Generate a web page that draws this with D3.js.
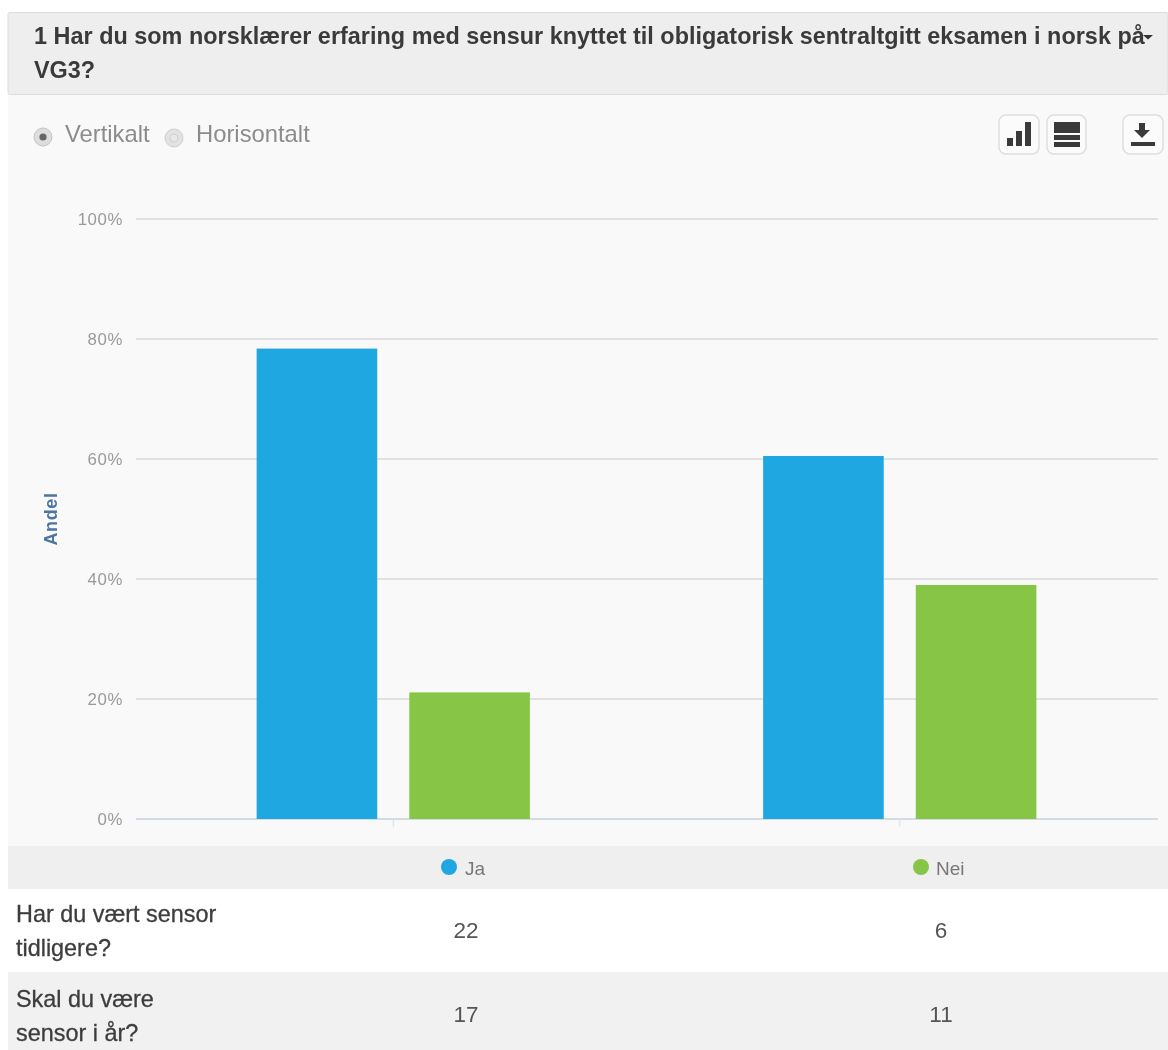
<!DOCTYPE html>
<html><head><meta charset="utf-8">
<script src="https://cdn.jsdelivr.net/npm/d3@7"></script>
<style>html,body{margin:0;padding:0;background:#fff;overflow:hidden}svg{display:block;filter:blur(.45px)}text{font-family:"Liberation Sans",Arial,sans-serif}</style>
</head><body><svg id="c" width="1168" height="1050"></svg>
<script>
const titleLines = ["1 Har du som norsklærer erfaring med sensur knyttet til obligatorisk sentraltgitt eksamen i norsk på", "VG3?"];
const categories = ["Har du vært sensor tidligere?", "Skal du være sensor i år?"];
const seriesNames = ["Ja", "Nei"];
const seriesColors = ["#1ea7e1", "#86c545"];
const jaShare = [78.4, 60.5];
const neiShare = [21.1, 39.0];
const yTicks = [0, 20, 40, 60, 80, 100];
const tableRows = [["Har du vært sensor", "tidligere?"], ["Skal du være", "sensor i år?"]];
const jaCounts = [22, 17];
const neiCounts = [6, 11];
const viewOptions = ["Vertikalt", "Horisontalt"];

const svg = d3.select("#c");
svg.append("rect").attr("x",8).attr("y",94).attr("width",1160).attr("height",956).attr("fill","#f9f9f9");
svg.append("rect").attr("x",8).attr("y",12.5).attr("width",1160).attr("height",82).attr("rx",2).attr("fill","#eeeeee").attr("stroke","#dcdcdc");
svg.selectAll("text.title").data(titleLines).join("text").attr("class","title")
  .attr("x",34).attr("y",(d,i)=>44+i*34).attr("font-size",23.4).attr("letter-spacing",.02).attr("font-weight","bold").attr("fill","#3a3a3a").text(d=>d);
svg.append("path").attr("d","M1143 35h10l-5 4.5z").attr("fill","#333");

// radio options
svg.append("circle").attr("cx",43).attr("cy",137).attr("r",9).attr("fill","#ddd").attr("stroke","#c4c4c4");
svg.append("circle").attr("cx",43).attr("cy",137).attr("r",3.6).attr("fill","#666");
svg.append("circle").attr("cx",174).attr("cy",138).attr("r",9).attr("fill","#e2e2e2").attr("stroke","#cfcfcf");
svg.append("circle").attr("cx",174).attr("cy",138).attr("r",4).attr("fill","#e8e8e8").attr("stroke","#d0d0d0");
svg.selectAll("text.opt").data(viewOptions).join("text").attr("class","opt")
  .attr("x",(d,i)=>[65,196][i]).attr("y",142).attr("font-size",23.8).attr("fill","#8c8c8c").text(d=>d);

// toolbar buttons
[[999,40],[1047,39],[1123,40]].forEach(([x,w])=>{
  svg.append("rect").attr("x",x).attr("y",115).attr("width",w).attr("height",39).attr("rx",7).attr("fill","#fbfbfb").attr("stroke","#dedede").attr("stroke-width",1.5);
});
const icon = svg.append("g").attr("fill","#3a3a3a");
[[1007,138,6,8],[1016,131,6,15],[1025,122,6,24]].forEach(([x,y,w,h])=>icon.append("rect").attr("x",x).attr("y",y).attr("width",w).attr("height",h));
[[1054,122,26,11],[1054,135,26,5],[1054,142,26,5]].forEach(([x,y,w,h])=>icon.append("rect").attr("x",x).attr("y",y).attr("width",w).attr("height",h));
icon.append("path").attr("d","M1139 123h6v7h5l-8 8-8-8h5z");
icon.append("rect").attr("x",1131).attr("y",142).attr("width",24).attr("height",4);

// chart
const y = d3.scaleLinear().domain([0,100]).range([819,219]);
const x0 = d3.scaleBand().domain(categories).range([140,1153]);
const x1 = d3.scaleBand().domain(seriesNames).range([0,x0.bandwidth()]).paddingInner(0.21).paddingOuter(0.764);
const grid = svg.append("g");
grid.selectAll("line").data(yTicks).join("line")
  .attr("x1",136).attr("x2",1158).attr("y1",d=>y(d)).attr("y2",d=>y(d))
  .attr("stroke",d=>d===0?"#d3dbe6":"#d9d9d9").attr("stroke-width",d=>d===0?2:1.5);
grid.selectAll("text").data(yTicks).join("text")
  .attr("x",123).attr("y",d=>y(d)+5.5).attr("text-anchor","end").attr("font-size",16.8).attr("letter-spacing",.6).attr("fill","#999").text(d=>d+"%");
svg.append("g").selectAll("line").data(categories).join("line")
  .attr("x1",d=>x0(d)+x0.bandwidth()/2).attr("x2",d=>x0(d)+x0.bandwidth()/2).attr("y1",819).attr("y2",827).attr("stroke","#d8dde6");
svg.append("text").attr("transform","translate(57,519) rotate(-90)").attr("text-anchor","middle")
  .attr("font-size",18).attr("font-weight","bold").attr("letter-spacing",.6).attr("fill","#4d759e").text("Andel");
[jaShare,neiShare].forEach((vals,s)=>{
  svg.append("g").attr("fill",seriesColors[s]).selectAll("rect").data(categories).join("rect")
    .attr("x",d=>x0(d)+x1(seriesNames[s])).attr("width",x1.bandwidth())
    .attr("y",(d,i)=>y(vals[i])).attr("height",(d,i)=>y(0)-y(vals[i]));
});

// table
svg.append("rect").attr("x",8).attr("y",846).attr("width",1160).attr("height",43).attr("fill","#efefef");
svg.append("rect").attr("x",8).attr("y",889).attr("width",1160).attr("height",83).attr("fill","#ffffff");
svg.append("rect").attr("x",8).attr("y",972).attr("width",1160).attr("height",78).attr("fill","#f1f1f1");
const colX = [466,941];
const legX = [449,921];
seriesNames.forEach((n,i)=>{
  svg.append("circle").attr("cx",legX[i]).attr("cy",867).attr("r",8).attr("fill",seriesColors[i]);
  svg.append("text").attr("x",legX[i]+[16,15][i]).attr("y",875).attr("font-size",19).attr("fill","#777").text(n);
});
tableRows.forEach((lines,r)=>{
  lines.forEach((l,k)=>svg.append("text").attr("x",16).attr("y",[922,1007][r]+k*34).attr("font-size",23.4).attr("fill","#3d3d3d").attr("stroke","#3d3d3d").attr("stroke-width",.3).text(l));
  [jaCounts,neiCounts].forEach((c,s)=>svg.append("text").attr("x",colX[s]).attr("y",[938,1022][r]).attr("text-anchor","middle").attr("font-size",22.5).attr("fill","#555").text(c[r]));
});
</script></body></html>
